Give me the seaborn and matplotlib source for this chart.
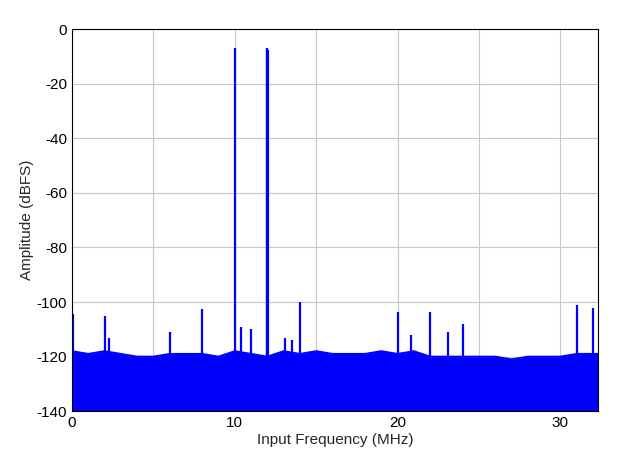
import matplotlib
matplotlib.use("Agg")
import matplotlib.pyplot as plt
import seaborn as sns
import pandas as pd

sns.set_theme(style="whitegrid")
plt.rcParams['font.family'] = ['Liberation Sans', 'DejaVu Sans']
plt.rcParams['axes.unicode_minus'] = False

# Noise-floor top envelope (MHz, dBFS)
floor_freq = [0,1,2,3,4,5,6,7,8,9,10,11,12,13,14,15,16,17,18,19,20,21,22,23,24,25,26,27,28,29,30,31,32,32.3]
floor_top = [-118,-119,-118,-119,-120,-120,-119,-119,-119,-120,-118,-119,-120,-118,-119,-118,-119,-119,-119,-118,-119,-118,-120,-120,-120,-120,-120,-121,-120,-120,-120,-119,-119,-119]
# Spurs and tones
spur_freq = [0.05,2.0,2.3,6.0,8.0,10.0,10.4,11.0,11.95,12.0,12.05,13.1,13.5,14.0,20.0,20.8,22.0,23.1,24.0,31.0,32.0]
spur_amp = [-104.5,-105,-113,-111,-102.5,-7,-109,-110,-7,-7,-7.5,-113,-114,-100,-103.5,-112,-103.5,-111,-108,-101,-102]

floor = pd.DataFrame({"f": floor_freq, "a": floor_top})
spurs = pd.DataFrame({"f": spur_freq, "a": spur_amp})

fig, ax = plt.subplots(figsize=(6.26, 4.69), dpi=100)
fig.subplots_adjust(left=0.115, right=0.955, bottom=0.123, top=0.938)
ax.fill_between(floor["f"], -140, floor["a"], color="#0000ff", lw=0)
sns.lineplot(data=floor, x="f", y="a", ax=ax, color="#0000ff", lw=1.5)
ax.vlines(spurs["f"], -140, spurs["a"], color="#0000ff", lw=1.6)
ax.set_xlim(0, 32.3)
ax.set_ylim(-140, 0)
ax.set_xticks([0, 10, 20, 30])
ax.set_xticks([5, 15, 25], minor=True)
ax.set_yticks(range(-140, 1, 20))
ax.grid(True, which="both", color="#c8c8c8", lw=0.8)
for s in ax.spines.values():
    s.set_color("black"); s.set_linewidth(0.8)
ax.tick_params(labelsize=11, colors="black", length=0)
ax.set_xlabel("Input Frequency (MHz)", fontsize=11, labelpad=2)
ax.set_ylabel("Amplitude (dBFS)", fontsize=11, labelpad=2)
fig.savefig("out.png", dpi=100)
